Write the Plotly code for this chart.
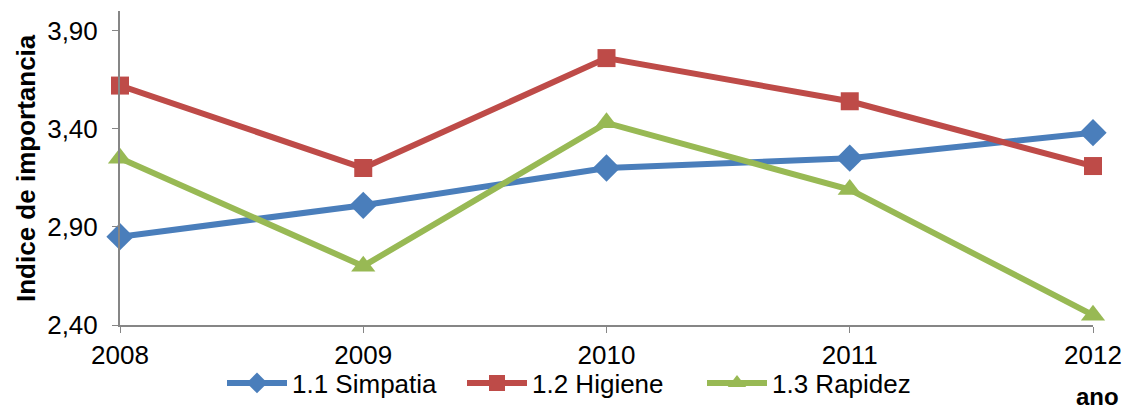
import plotly.graph_objects as go

years = [2008, 2009, 2010, 2011, 2012]
simpatia = [2.85, 3.01, 3.20, 3.25, 3.38]
higiene = [3.62, 3.20, 3.76, 3.54, 3.21]
rapidez = [3.25, 2.70, 3.43, 3.09, 2.45]
y_ticks = [2.40, 2.90, 3.40, 3.90]

FONT = "Liberation Sans, Arial, sans-serif"
FS = 26

W, H = 1126, 412
L, T, R, B = 120, 11, 33, 87
PW, PH = W - L - R, H - T - B

fig = go.Figure()
fig.add_trace(go.Scatter(x=years, y=simpatia, name="1.1 Simpatia", mode="lines+markers",
                         line=dict(color="#4A7EBB", width=6),
                         marker=dict(symbol="diamond", size=21, color="#4A7EBB"), cliponaxis=False))
fig.add_trace(go.Scatter(x=years, y=higiene, name="1.2 Higiene", mode="lines+markers",
                         line=dict(color="#BE4B48", width=6),
                         marker=dict(symbol="square", size=18, color="#BE4B48"), cliponaxis=False))
fig.add_trace(go.Scatter(x=years, y=rapidez, name="1.3 Rapidez", mode="lines+markers",
                         line=dict(color="#98B954", width=6),
                         marker=dict(symbol="triangle-up", size=21, color="#98B954"), cliponaxis=False))

fig.update_layout(
    width=W, height=H,
    margin=dict(l=L, r=R, t=T, b=B, autoexpand=False),
    paper_bgcolor="white", plot_bgcolor="white",
    separators=",.",
    font=dict(family=FONT, size=FS, color="black"),
    showlegend=True,
    legend=dict(orientation="h", x=(222 - 120) / PW, xanchor="left", y=-(383 - 325) / PH, yanchor="middle",
                font=dict(size=FS), itemwidth=60, entrywidth=165, entrywidthmode="pixels",
                bgcolor="rgba(0,0,0,0)"),
)
fig.update_xaxes(range=[2008, 2012], tickvals=years, ticktext=[str(y) for y in years],
                 showgrid=False, zeroline=False, showline=True, linecolor="#868686", linewidth=2,
                 ticks="outside", ticklen=6, tickcolor="#868686", tickwidth=1,
                 ticklabelstandoff=0, automargin=False)
fig.update_yaxes(range=[2.40, 4.00], tickvals=y_ticks, tickformat=".2f",
                 showgrid=False, zeroline=False, showline=True, linecolor="#868686", linewidth=2,
                 ticks="outside", ticklen=6, tickcolor="#868686", tickwidth=1,
                 ticklabelstandoff=9, automargin=False)

fig.add_annotation(text="<b>Indice de importancia</b>", textangle=-90, xref="paper", yref="paper",
                   x=(26 - 120) / PW, y=0.5, xanchor="center", yanchor="middle",
                   showarrow=False, font=dict(size=FS))
fig.add_annotation(text="<b>ano</b>", xref="paper", yref="paper",
                   x=(1097 - 120) / PW, y=-(396 - 325) / PH, xanchor="center", yanchor="middle",
                   showarrow=False, font=dict(size=24))

fig.write_html("out.html", config={"displayModeBar": False},
               post_script="document.body.style.margin='0';document.body.style.overflow='hidden';")
